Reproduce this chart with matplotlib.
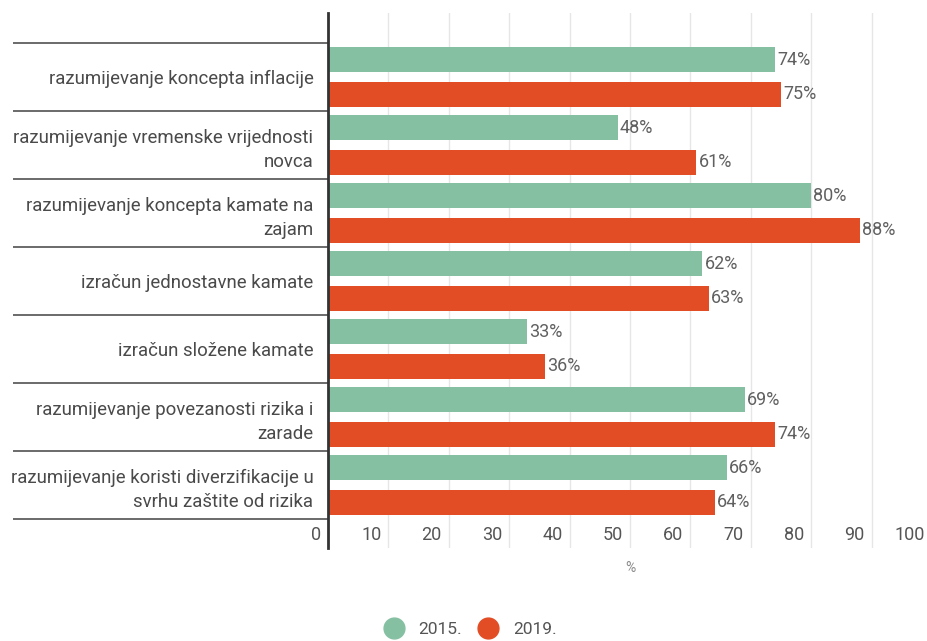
import numpy as np
import matplotlib
matplotlib.use("Agg")
import matplotlib.pyplot as plt
import matplotlib.transforms as mtransforms
from matplotlib.lines import Line2D

plt.rcParams['font.family'] = ['Roboto', 'DejaVu Sans']

categories = [
    "razumijevanje koncepta inflacije",
    "razumijevanje vremenske vrijednosti\nnovca",
    "razumijevanje koncepta kamate na\nzajam",
    "izračun jednostavne kamate",
    "izračun složene kamate",
    "razumijevanje povezanosti rizika i\nzarade",
    "razumijevanje koristi diverzifikacije u\nsvrhu zaštite od rizika",
]
values_2015 = [74, 48, 80, 62, 33, 69, 66]
values_2019 = [75, 61, 88, 63, 36, 74, 64]
series_names = ["2015.", "2019."]
x_ticks = [0, 10, 20, 30, 40, 50, 60, 70, 80, 90, 100]

green = "#86c0a3"
red = "#e24d26"
text_col = "#4a4a4a"

W, H = 927, 641
fig = plt.figure(figsize=(W / 100, H / 100), dpi=100)
ax = fig.add_axes([328 / W, (H - 548) / H, 604 / W, 535 / H])

y = np.arange(len(categories))
bh = 0.368
off = 0.257
ax.barh(y - off, values_2015, height=bh, color=green, zorder=3)
ax.barh(y + off, values_2019, height=bh, color=red, zorder=3)

# value labels just past the bar ends
lab_shift = mtransforms.offset_copy(ax.transData, fig=fig, x=1.5, y=0, units='points')
for i, v in enumerate(values_2015):
    ax.text(v, i - off, f"{v}%", transform=lab_shift, ha='left', va='center',
            fontsize=13, color="#606060")
for i, v in enumerate(values_2019):
    ax.text(v, i + off, f"{v}%", transform=lab_shift, ha='left', va='center',
            fontsize=13, color="#606060")

ax.set_xlim(0, 100)
ax.set_ylim(len(categories) - 0.5 + 29 / 68, -0.5 - 30 / 68)

# x axis: gridlines span full height, labels sit inside, right aligned
ax.set_xticks(x_ticks)
ax.set_xticklabels([str(t) for t in x_ticks])
ax.xaxis.grid(True, color="#e6e6e6", linewidth=1, zorder=0)
ax.tick_params(axis='x', length=0, pad=-15.5, labelsize=13, labelcolor="#555555")
shift = mtransforms.ScaledTranslation(-7 / 100, 0, fig.dpi_scale_trans)
for lbl in ax.get_xticklabels():
    lbl.set_horizontalalignment('right')
    lbl.set_transform(lbl.get_transform() + shift)

ax.set_xlabel("%", fontsize=10, color="#8a8a8a", labelpad=9.5)

# y axis: category labels, separators drawn as long minor ticks
ax.set_yticks(y)
ax.set_yticklabels(categories, fontsize=13.4, color=text_col, linespacing=1.4)
ax.set_yticks(np.arange(-0.5, len(categories)), minor=True)
ax.tick_params(axis='y', which='major', length=0, pad=10.5)
ax.tick_params(axis='y', which='minor', length=227, width=1.4, color="#6a6a6a")

for s in ['top', 'right', 'bottom']:
    ax.spines[s].set_visible(False)
ax.spines['left'].set_color("#333333")
ax.spines['left'].set_linewidth(2)
ax.spines['left'].set_zorder(4)

handles = [
    Line2D([], [], marker='o', linestyle='', markersize=15, color=green),
    Line2D([], [], marker='o', linestyle='', markersize=15, color=red),
]
fig.legend(handles, series_names, loc='center', bbox_to_anchor=(471 / W, 12 / H),
           ncol=2, frameon=False, fontsize=12.5, labelcolor="#555555",
           handletextpad=0.95, columnspacing=1.0, handlelength=1.0)

fig.savefig("out.png", dpi=100)
